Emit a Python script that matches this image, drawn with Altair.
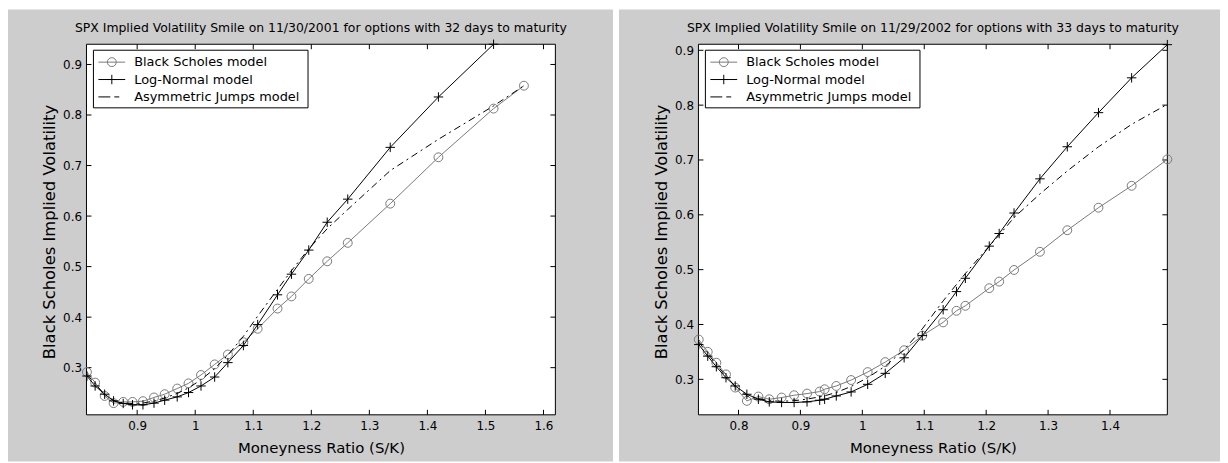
import altair as alt
import pandas as pd

# ---------------- data ----------------
MAIN_TITLE = "Implied Volatility Smiles on days in medium volatility months"
subtitles = [
    "SPX Implied Volatility Smile on 11/30/2001 for options with 32 days to maturity",
    "SPX Implied Volatility Smile on 11/29/2002 for options with 33 days to maturity",
]
series_names = ["Black Scholes model", "Log-Normal model", "Asymmetric Jumps model"]
x_title = "Moneyness Ratio (S/K)"
y_title = "Black Scholes Implied Volatility"

# 11/30/2001
m_2001 = [0.8135, 0.8276, 0.844, 0.8594, 0.876, 0.892, 0.910, 0.929, 0.9474, 0.969,
          0.9885, 1.010, 1.0335, 1.0563, 1.083, 1.1076, 1.1418, 1.1658, 1.1956, 1.2274,
          1.2628, 1.336, 1.419, 1.514, 1.5663]
bs_2001 = [0.2913, 0.2705, 0.244, 0.2298, 0.2323, 0.2323, 0.2337, 0.241, 0.2475, 0.2587,
           0.269, 0.2855, 0.3065, 0.326, 0.3504, 0.377, 0.417, 0.441, 0.4757, 0.5105,
           0.547, 0.6246, 0.7163, 0.8127, 0.858]
ln_2001 = [0.2835, 0.2638, 0.2475, 0.2343, 0.2292, 0.2265, 0.2265, 0.2298, 0.2357, 0.2422,
           0.2508, 0.2638, 0.2815, 0.31, 0.3439, 0.3852, 0.4442, 0.485, 0.5327, 0.5878,
           0.6335, 0.736, 0.8357, 0.94]
aj_2001 = [0.287, 0.268, 0.247, 0.235, 0.230, 0.229, 0.230, 0.234, 0.240, 0.249,
           0.260, 0.276, 0.298, 0.325, 0.362, 0.402, 0.455, 0.492, 0.535, 0.575,
           0.613, 0.690, 0.752, 0.818, 0.858]
xdom_2001 = [0.8127, 1.6205]
ydom_2001 = [0.2067, 0.94]
xticks_2001 = [0.9, 1.0, 1.1, 1.2, 1.3, 1.4, 1.5, 1.6]
yticks_2001 = [0.3, 0.4, 0.5, 0.6, 0.7, 0.8, 0.9]

# 11/29/2002
m_2002 = [0.7358, 0.7503, 0.7642, 0.7798, 0.7947, 0.8135, 0.8321, 0.8497, 0.8696, 0.8898,
          0.9107, 0.9311, 0.9391, 0.9579, 0.9819, 1.0086, 1.037, 1.0675, 1.0968, 1.1305,
          1.152, 1.1664, 1.205, 1.221, 1.245, 1.2868, 1.331, 1.3814, 1.4349, 1.4926]
bs_2002 = [0.3725, 0.3502, 0.3303, 0.309, 0.285, 0.2607, 0.2686, 0.2637, 0.2668, 0.271,
           0.274, 0.2777, 0.2819, 0.2879, 0.2987, 0.3132, 0.3314, 0.3531, 0.3797, 0.4039,
           0.425, 0.4341, 0.4662, 0.4782, 0.4994, 0.5326, 0.5719, 0.613, 0.6529, 0.7011]
ln_2002 = [0.3634, 0.3423, 0.323, 0.303, 0.2879, 0.2728, 0.2637, 0.2589, 0.2578, 0.2578,
           0.2589, 0.2619, 0.2637, 0.2697, 0.277, 0.2909, 0.3109, 0.3393, 0.3797, 0.4269,
           0.46, 0.4843, 0.5429, 0.5659, 0.6033, 0.6656, 0.7241, 0.7863, 0.8498, 0.9103]
aj_2002 = [0.368, 0.347, 0.327, 0.306, 0.287, 0.270, 0.265, 0.261, 0.260, 0.261,
           0.264, 0.268, 0.270, 0.276, 0.287, 0.303, 0.324, 0.354, 0.392, 0.443,
           0.473, 0.493, 0.543, 0.563, 0.595, 0.638, 0.680, 0.724, 0.765, 0.8015]
xdom_2002 = [0.7353, 1.4926]
ydom_2002 = [0.2353, 0.911]
xticks_2002 = [0.8, 0.9, 1.0, 1.1, 1.2, 1.3, 1.4]
yticks_2002 = [0.3, 0.4, 0.5, 0.6, 0.7, 0.8, 0.9]

# ---------------- style ----------------
W, H = 472, 373
GREY_BG = "#cdcdcd"
BS_COLOR = "#7a7a7a"
FONT = "DejaVu Sans"
PLUS = "M-1,0L1,0M0,-1L0,1"
DASHDOT = [7, 4, 2, 4]
TICK = 5


def panel(m, bs, ln, aj, xdom, ydom, xticks, yticks, subtitle, pad_left, pad_right, pad_top, pad_bottom):
    df = pd.DataFrame({"m": m, "bs": bs, "aj": aj})
    df_ln = pd.DataFrame({"m": m[:len(ln)], "ln": ln})
    one = alt.Data(values=[{"k": 0}])
    xs = alt.Scale(domain=xdom, nice=False, zero=False)
    ys = alt.Scale(domain=ydom, nice=False, zero=False)

    x_axis = alt.Axis(values=xticks, format=".1~f", ticks=False, tickSize=0, domain=False, grid=False,
                      labelFont=FONT, labelFontSize=12, labelColor="black", labelPadding=6,
                      title=x_title, titleFont=FONT, titleFontSize=15, titleFontWeight="normal",
                      titleColor="black", titleY=33, titleBaseline="middle", zindex=1)
    y_axis = alt.Axis(values=yticks, format=".1~f", ticks=False, tickSize=0, domain=False, grid=False,
                      labelFont=FONT, labelFontSize=12, labelColor="black", labelPadding=5,
                      title=y_title, titleFont=FONT, titleFontSize=16.5, titleFontWeight="normal",
                      titleColor="black", titleX=-37, titleY=H / 2 + 2, titleAngle=270,
                      titleAlign="center", titleBaseline="middle", zindex=1)

    def X(field):
        return alt.X(field, scale=xs, axis=x_axis)

    def Y(field):
        return alt.Y(field, scale=ys, axis=y_axis)

    bg = alt.Chart(one).mark_rect(fill=GREY_BG, strokeWidth=0).encode(
        x=alt.value(-pad_left), x2=alt.value(W + pad_right),
        y=alt.value(-pad_top), y2=alt.value(H + pad_bottom))
    frame = alt.Chart(one).mark_rect(fill="white", stroke="black", strokeWidth=1).encode(
        x=alt.value(0), x2=alt.value(W), y=alt.value(0), y2=alt.value(H))

    xt = pd.DataFrame({"v": xticks})
    yt = pd.DataFrame({"v": yticks})
    tick_bottom = alt.Chart(xt).mark_rule(color="black", strokeWidth=1).encode(
        x=X("v:Q"), y=alt.value(H), y2=alt.value(H - TICK))
    tick_top = alt.Chart(xt).mark_rule(color="black", strokeWidth=1).encode(
        x=X("v:Q"), y=alt.value(0), y2=alt.value(TICK))
    tick_left = alt.Chart(yt).mark_rule(color="black", strokeWidth=1).encode(
        y=Y("v:Q"), x=alt.value(0), x2=alt.value(TICK))
    tick_right = alt.Chart(yt).mark_rule(color="black", strokeWidth=1).encode(
        y=Y("v:Q"), x=alt.value(W), x2=alt.value(W - TICK))

    bs_line = alt.Chart(df).mark_line(color=BS_COLOR, strokeWidth=1).encode(
        x=X("m:Q"), y=Y("bs:Q"))
    bs_pts = alt.Chart(df).mark_point(shape="circle", filled=False, color=BS_COLOR,
                                      size=80, strokeWidth=1, opacity=1).encode(
        x=X("m:Q"), y=Y("bs:Q"))
    ln_line = alt.Chart(df_ln).mark_line(color="black", strokeWidth=1).encode(
        x=X("m:Q"), y=Y("ln:Q"))
    ln_pts = alt.Chart(df_ln).mark_point(shape=PLUS, filled=False, color="black",
                                         size=90, strokeWidth=1, opacity=1).encode(
        x=X("m:Q"), y=Y("ln:Q"))
    aj_line = alt.Chart(df).mark_line(color="black", strokeWidth=1, strokeDash=DASHDOT).encode(
        x=X("m:Q"), y=Y("aj:Q"))

    # legend (drawn manually inside the plot area)
    lx0, lx1, ly0, ly1 = 7, 223, 6, 64
    rows = [18, 35.5, 53]
    leg = [alt.Chart(one).mark_rect(fill="white", stroke="black", strokeWidth=1).encode(
        x=alt.value(lx0), x2=alt.value(lx1), y=alt.value(ly0), y2=alt.value(ly1))]
    leg.append(alt.Chart(one).mark_rule(color=BS_COLOR, strokeWidth=1).encode(
        x=alt.value(lx0 + 5), x2=alt.value(lx0 + 32), y=alt.value(rows[0])))
    leg.append(alt.Chart(one).mark_point(shape="circle", filled=False, color=BS_COLOR, size=80,
                                         strokeWidth=1, opacity=1).encode(
        x=alt.value(lx0 + 18.5), y=alt.value(rows[0])))
    leg.append(alt.Chart(one).mark_rule(color="black", strokeWidth=1).encode(
        x=alt.value(lx0 + 5), x2=alt.value(lx0 + 32), y=alt.value(rows[1])))
    leg.append(alt.Chart(one).mark_point(shape=PLUS, filled=False, color="black", size=90,
                                         strokeWidth=1, opacity=1).encode(
        x=alt.value(lx0 + 18.5), y=alt.value(rows[1])))
    leg.append(alt.Chart(one).mark_rule(color="black", strokeWidth=1, strokeDash=[12, 4, 5, 20]).encode(
        x=alt.value(lx0 + 5), x2=alt.value(lx0 + 32), y=alt.value(rows[2])))
    for r, name in zip(rows, series_names):
        leg.append(alt.Chart(one).mark_text(font=FONT, fontSize=13, color="black", align="left",
                                            baseline="middle").encode(
            x=alt.value(lx0 + 41), y=alt.value(r), text=alt.value(name)))

    sub = alt.Chart(one).mark_text(font=FONT, fontSize=12.5, color="black", align="center",
                                   baseline="middle").encode(
        x=alt.value(W / 2), y=alt.value(-16), text=alt.value(subtitle))

    return alt.layer(bg, frame, tick_bottom, tick_top, tick_left, tick_right,
                     bs_line, bs_pts, ln_line, ln_pts, aj_line, *leg, sub).properties(width=W, height=H)


left = panel(m_2001, bs_2001, ln_2001, aj_2001, xdom_2001, ydom_2001, xticks_2001, yticks_2001,
             subtitles[0], 79, 58, 35, 47)
right = panel(m_2002, bs_2002, ln_2002, aj_2002, xdom_2002, ydom_2002, xticks_2002, yticks_2002,
              subtitles[1], 80, 53, 35, 47)

chart = alt.hconcat(left, right, spacing=6).properties(
    padding=0, background="white", description=MAIN_TITLE
).configure_view(stroke=None)

chart.save("out.html", embed_options={"renderer": "svg", "actions": False})
